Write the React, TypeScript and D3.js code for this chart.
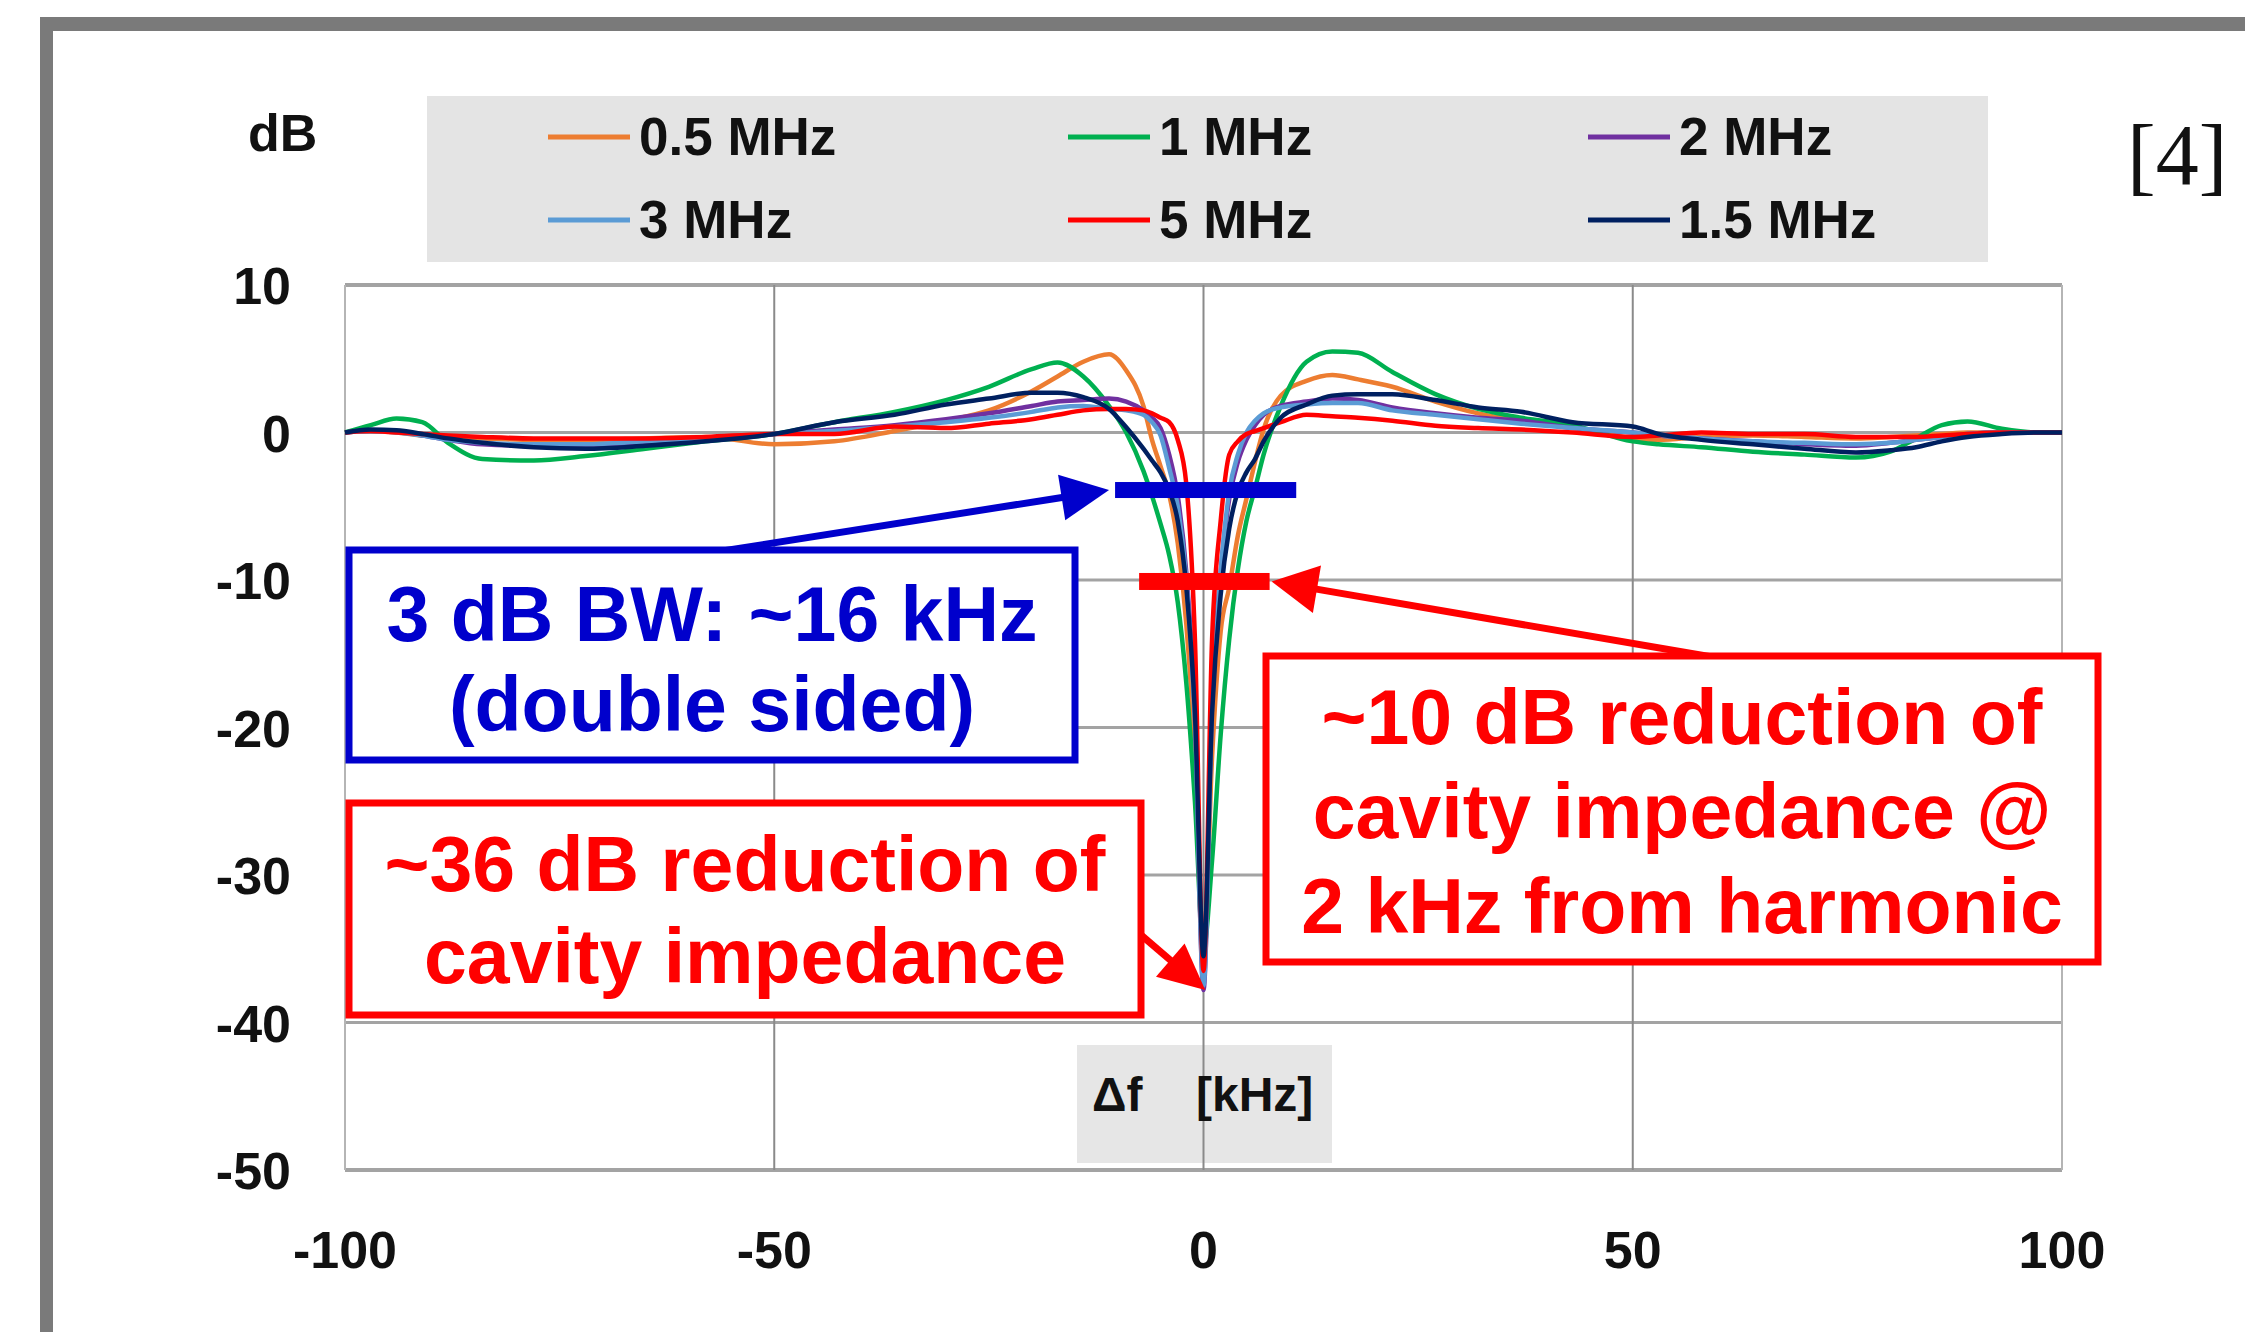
import React, { useEffect, useRef } from 'react';
import * as d3 from 'd3';

// frequency offset from the harmonic, kHz
const freqKHz = [-100, -97, -94, -91, -88, -84, -78, -72, -65, -58,
  -50, -43, -36, -30, -25, -20, -17, -14, -11, -9,
  -7, -6, -5, -4, -3, -2, -1, 0,
  1, 2, 3, 4, 5, 6, 7, 9,
  12, 15, 18, 22, 27, 32, 37, 43,
  50, 53, 58, 64, 70, 76, 80, 83,
  86, 89, 93, 97, 100];

// measured response, dB
const db05 = [0, 0.1, 0, -0.2, -0.3, -0.4, -0.5, -0.5, -0.4, -0.3,
  -0.8, -0.6, 0.1, 0.8, 1.5, 2.8, 3.8, 4.8, 5.3, 4.2,
  1.8, -0.5, -2.3, -4.2, -7.5, -13, -22, -36,
  -22, -13.5, -10.5, -7, -4.5, -2, 0.2, 2.5,
  3.5, 3.9, 3.6, 3.1, 2.1, 1.3, 0.8, 0.4,
  -0.4, -0.5, -0.3, -0.2, -0.3, -0.4, -0.3, -0.2,
  -0.1, 0, 0, 0, 0];
const db1 = [0, 0.5, 0.95, 0.7, -0.7, -1.8, -1.9, -1.6, -1.1, -0.6,
  -0.1, 0.7, 1.4, 2.2, 3.1, 4.3, 4.75, 3.8, 1.8, 0,
  -2.6, -4.3, -6.2, -8.3, -11.5, -17, -25, -35,
  -29, -20.5, -14, -9.3, -6, -3.8, -1.5, 1.8,
  4.8, 5.5, 5.4, 4.1, 2.6, 1.6, 1.0, 0.5,
  -0.6, -0.8, -1.0, -1.3, -1.5, -1.7, -1.3, -0.4,
  0.5, 0.75, 0.25, 0, 0];
const db2 = [0, 0.1, 0.05, -0.2, -0.5, -0.8, -0.9, -0.9, -0.7, -0.5,
  -0.1, 0.2, 0.5, 0.9, 1.3, 1.8, 2.1, 2.2, 2.3, 2.1,
  1.5, 1.0, 0.3, -1.5, -4.3, -9.5, -19, -37.8,
  -18, -9.5, -4.5, -2.0, -0.5, 0.5, 1.2, 1.8,
  2.1, 2.3, 2.2, 1.7, 1.3, 1.0, 0.8, 0.3,
  0, -0.2, -0.4, -0.6, -0.8, -0.9, -0.7, -0.5,
  -0.3, -0.1, 0, 0, 0];
const db3 = [0, 0.1, 0, -0.2, -0.5, -0.7, -0.8, -0.8, -0.6, -0.4,
  -0.1, 0.1, 0.4, 0.7, 1.0, 1.4, 1.7, 1.8, 1.6, 1.5,
  1.2, 0.7, -0.2, -2.4, -5, -10, -19.5, -37.5,
  -18.5, -9.5, -4.0, -1.5, 0, 0.8, 1.3, 1.7,
  1.9, 2.0, 2.0, 1.5, 1.2, 0.9, 0.6, 0.3,
  0, -0.2, -0.4, -0.6, -0.7, -0.8, -0.7, -0.5,
  -0.3, -0.1, 0, 0, 0];
const db5 = [0, 0.1, 0, -0.1, -0.2, -0.3, -0.4, -0.4, -0.4, -0.3,
  -0.1, -0.1, 0.4, 0.3, 0.6, 0.9, 1.2, 1.5, 1.6, 1.6,
  1.5, 1.3, 1.0, 0.7, -0.5, -3.5, -14, -36.5,
  -14, -6, -1.5, -0.6, -0.1, 0.1, 0.3, 0.7,
  1.2, 1.1, 1.0, 0.8, 0.45, 0.3, 0.2, 0,
  -0.3, -0.2, 0, -0.1, -0.1, -0.3, -0.3, -0.3,
  -0.2, -0.1, 0, 0, 0];
const db15 = [0, 0.2, 0.15, -0.1, -0.4, -0.7, -1.0, -1.1, -0.9, -0.6,
  -0.1, 0.7, 1.2, 1.9, 2.3, 2.7, 2.7, 2.4, 1.6, 0.35,
  -1.1, -1.9, -2.7, -3.9, -6, -10.5, -19, -35.5,
  -19, -11, -6.5, -4.0, -2.7, -1.8, -0.6, 1.0,
  1.9, 2.5, 2.6, 2.6, 2.2, 1.7, 1.4, 0.7,
  0.4, -0.1, -0.5, -0.8, -1.1, -1.35, -1.2, -1.0,
  -0.6, -0.3, -0.1, 0, 0];

const seriesNames = ['0.5 MHz', '1 MHz', '2 MHz', '3 MHz', '5 MHz', '1.5 MHz'];
const seriesValues = [db05, db1, db2, db3, db5, db15];
const seriesColors = ['#ED7D31', '#00B050', '#7030A0', '#5B9BD5', '#FF0000', '#002060'];

const xTicks = [-100, -50, 0, 50, 100];
const yTicks = [10, 0, -10, -20, -30, -40, -50];

// annotation markers (kHz / dB)
const bwMarker = { db: -3.9, from: -10.3, to: 10.8 };
const harmMarker = { db: -10.1, from: -7.5, to: 7.7 };

const FONT = '"Liberation Sans", Arial, sans-serif';

function drawArrow(g: any, x1: number, y1: number, x2: number, y2: number, color: string, w: number, headLen: number, headHalf: number) {
  const dx = x2 - x1, dy = y2 - y1;
  const L = Math.hypot(dx, dy);
  const ux = dx / L, uy = dy / L;
  const bx = x2 - ux * headLen, by = y2 - uy * headLen;
  g.append('line')
    .attr('x1', x1).attr('y1', y1)
    .attr('x2', bx + ux * 2).attr('y2', by + uy * 2)
    .attr('stroke', color).attr('stroke-width', w);
  g.append('polygon')
    .attr('points', [
      [x2, y2],
      [bx - uy * headHalf, by + ux * headHalf],
      [bx + uy * headHalf, by - ux * headHalf],
    ].map(p => p.join(',')).join(' '))
    .attr('fill', color);
}

function App() {
  const ref = useRef<HTMLDivElement>(null);

  useEffect(() => {
    const W = 2245, H = 1332;
    const root = d3.select(ref.current);
    root.selectAll('*').remove();

    const svg = root.append('svg')
      .attr('width', W)
      .attr('height', H)
      .style('display', 'block')
      .style('background', '#ffffff');

    const x = d3.scaleLinear().domain([-100, 100]).range([345, 2062]);
    const y = d3.scaleLinear().domain([-50, 10]).range([1170, 285]);

    // outer frame
    svg.append('rect').attr('x', 40).attr('y', 17).attr('width', W).attr('height', 14).attr('fill', '#7a7a7a');
    svg.append('rect').attr('x', 40).attr('y', 17).attr('width', 13).attr('height', H).attr('fill', '#7a7a7a');

    // x-axis title box (sits behind the grid)
    svg.append('rect').attr('x', 1077).attr('y', 1045).attr('width', 255).attr('height', 118).attr('fill', '#e6e6e6');

    // grid
    const grid = svg.append('g');
    grid.selectAll('line.h')
      .data(yTicks)
      .enter()
      .append('line')
      .attr('x1', x(-100)).attr('x2', x(100))
      .attr('y1', d => y(d)).attr('y2', d => y(d))
      .attr('stroke', '#a3a3a3')
      .attr('stroke-width', d => (d === 10 || d === -50 ? 4 : 3));
    grid.selectAll('line.v')
      .data(xTicks)
      .enter()
      .append('line')
      .attr('x1', d => x(d)).attr('x2', d => x(d))
      .attr('y1', y(10)).attr('y2', y(-50))
      .attr('stroke', d => (Math.abs(d) === 100 ? '#b5b5b5' : '#8a8a8a'))
      .attr('stroke-width', 2);

    // tick labels
    svg.append('g').selectAll('text')
      .data(yTicks)
      .enter()
      .append('text')
      .attr('x', 291)
      .attr('y', d => y(d) + 19)
      .attr('text-anchor', 'end')
      .style('font', `bold 52px ${FONT}`)
      .attr('fill', '#111')
      .text(d => String(d));
    svg.append('g').selectAll('text')
      .data(xTicks)
      .enter()
      .append('text')
      .attr('x', d => x(d))
      .attr('y', 1268)
      .attr('text-anchor', 'middle')
      .style('font', `bold 52px ${FONT}`)
      .attr('fill', '#111')
      .text(d => String(d));

    svg.append('text').attr('x', 248).attr('y', 151)
      .style('font', `bold 52px ${FONT}`).attr('fill', '#111').text('dB');

    svg.append('text').attr('x', 1092).attr('y', 1111)
      .style('font', `bold 48px ${FONT}`).attr('fill', '#111').text('Δf');
    svg.append('text').attr('x', 1196).attr('y', 1111)
      .style('font', `bold 48px ${FONT}`).attr('fill', '#111').text('[kHz]');

    // curves
    const line = d3.line<number>()
      .x((_, i) => x(freqKHz[i]))
      .y(d => y(d))
      .curve(d3.curveMonotoneX);
    svg.append('g').selectAll('path')
      .data(seriesValues)
      .enter()
      .append('path')
      .attr('d', d => line(d))
      .attr('fill', 'none')
      .attr('stroke', (_, i) => seriesColors[i])
      .attr('stroke-width', 4.5)
      .attr('stroke-linejoin', 'round');

    // legend
    svg.append('rect').attr('x', 427).attr('y', 96).attr('width', 1561).attr('height', 166).attr('fill', '#e4e4e4');
    const legend = svg.append('g');
    const colX = [548, 1068, 1588];
    const rowY = [137, 220];
    seriesNames.forEach((name, i) => {
      const cx = colX[i % 3], cy = rowY[Math.floor(i / 3)];
      legend.append('line')
        .attr('x1', cx).attr('x2', cx + 82)
        .attr('y1', cy).attr('y2', cy)
        .attr('stroke', seriesColors[i]).attr('stroke-width', 5);
      legend.append('text')
        .attr('x', cx + 91).attr('y', cy + 18)
        .style('font', `bold 53px ${FONT}`)
        .attr('fill', '#111')
        .text(name);
    });

    svg.append('text').attr('x', 2127).attr('y', 184)
      .style('font', '86px "Liberation Serif", "Times New Roman", serif')
      .attr('fill', '#111').text('[4]');

    // annotations
    const ann = svg.append('g');
    ann.append('rect')
      .attr('x', x(bwMarker.from)).attr('y', y(bwMarker.db) - 8)
      .attr('width', x(bwMarker.to) - x(bwMarker.from)).attr('height', 16)
      .attr('fill', '#0000CC');
    ann.append('rect')
      .attr('x', x(harmMarker.from)).attr('y', y(harmMarker.db) - 8.5)
      .attr('width', x(harmMarker.to) - x(harmMarker.from)).attr('height', 17)
      .attr('fill', '#FF0000');

    drawArrow(ann, 716, 552, x(bwMarker.from) - 6, y(bwMarker.db), '#0000CC', 7, 48, 23);
    drawArrow(ann, 1718, 658, x(harmMarker.to) + 2, y(harmMarker.db), '#FF0000', 7, 46, 24);
    drawArrow(ann, 1141, 935, x(0.2), y(-37.8), '#FF0000', 7, 46, 22);

    const boxes = [
      { x0: 349, y0: 550, x1: 1075, y1: 760, color: '#0000CC', lines: ['3 dB BW: ~16 kHz', '(double sided)'], cy: [613, 703] },
      { x0: 349, y0: 803, x1: 1141, y1: 1015, color: '#FF0000', lines: ['~36 dB reduction of', 'cavity impedance'], cy: [863, 955] },
      { x0: 1266, y0: 656, x1: 2098, y1: 962, color: '#FF0000', lines: ['~10 dB reduction of', 'cavity impedance @', '2 kHz from harmonic'], cy: [716, 810, 905] },
    ];
    boxes.forEach(b => {
      ann.append('rect')
        .attr('x', b.x0).attr('y', b.y0)
        .attr('width', b.x1 - b.x0).attr('height', b.y1 - b.y0)
        .attr('fill', '#fff')
        .attr('stroke', b.color).attr('stroke-width', 7);
      b.lines.forEach((t, i) => {
        ann.append('text')
          .attr('x', (b.x0 + b.x1) / 2)
          .attr('y', b.cy[i] + 28)
          .attr('text-anchor', 'middle')
          .style('font', `bold 77px ${FONT}`)
          .attr('fill', b.color)
          .text(t);
      });
    });
  }, []);

  return <div ref={ref} style={{ position: 'absolute', left: 0, top: 0 }} />;
}

export default App;
